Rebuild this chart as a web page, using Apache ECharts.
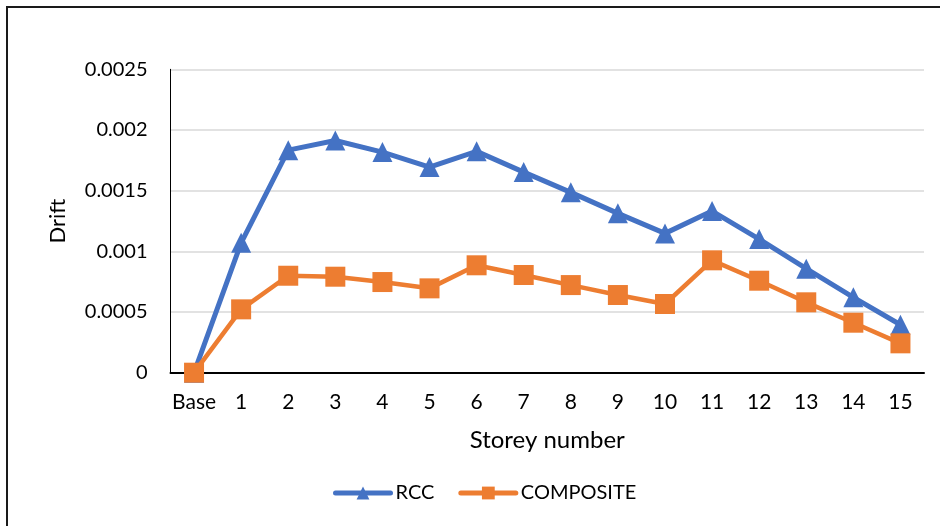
<!DOCTYPE html>
<html>
<head>
<meta charset="utf-8">
<script src="https://cdn.jsdelivr.net/npm/echarts@6/dist/echarts.min.js"></script>
<style>
  html, body { margin: 0; padding: 0; background: #fff; }
  #chart { width: 940px; height: 526px; }
</style>
</head>
<body>
<div id="chart"></div>
<script>
// Storey labels along the x axis
const storeys = ['Base', '1', '2', '3', '4', '5', '6', '7', '8', '9', '10', '11', '12', '13', '14', '15'];

// Inter-storey drift per storey
const rccDrift = [0, 0.00107, 0.001834, 0.001913, 0.001818, 0.001694, 0.001824, 0.001653,
                  0.001486, 0.001313, 0.001148, 0.001332, 0.001101, 0.000857, 0.000621, 0.000395];
const compositeDrift = [0, 0.000522, 0.000799, 0.000791, 0.000747, 0.000695, 0.000885, 0.000805,
                        0.000722, 0.00064, 0.000566, 0.000926, 0.000758, 0.00058, 0.000412, 0.000242];

// Drift axis range
const driftMin = 0;
const driftMax = 0.0025;
const driftStep = 0.0005;

const FONT = 'Lato';
const chart = echarts.init(document.getElementById('chart'), null, { renderer: 'canvas' });

chart.setOption({
  animation: false,
  backgroundColor: '#ffffff',
  textStyle: { fontFamily: FONT },
  graphic: [{
    type: 'rect',
    silent: true,
    shape: { x: 7, y: 7, width: 1000, height: 600 },
    style: { fill: 'none', stroke: '#1a1a1a', lineWidth: 2 }
  }],
  grid: { left: 170.5, right: 16, top: 69.3, bottom: 153.3, containLabel: false },
  legend: {
    left: 333,
    top: 483,
    padding: 0,
    itemWidth: 55,
    itemHeight: 16,
    itemGap: 24,
    lineStyle: { width: 5, cap: 'round' },
    textStyle: { fontFamily: FONT, fontSize: 20, color: '#000' },
    data: ['RCC', 'COMPOSITE']
  },
  xAxis: {
    type: 'category',
    data: storeys,
    boundaryGap: true,
    name: 'Storey number',
    nameLocation: 'middle',
    nameGap: 56,
    nameTextStyle: { fontFamily: FONT, fontSize: 24, color: '#000' },
    axisLine: { show: true, lineStyle: { color: '#000', width: 2 } },
    axisTick: { show: false },
    axisLabel: { margin: 19, fontFamily: FONT, fontSize: 21, color: '#000', interval: 0 },
    splitLine: { show: false }
  },
  yAxis: {
    type: 'value',
    min: driftMin,
    max: driftMax,
    interval: driftStep,
    name: 'Drift',
    nameLocation: 'middle',
    nameGap: 102,
    nameTextStyle: { fontFamily: FONT, fontSize: 22, color: '#000' },
    axisLine: { show: true, lineStyle: { color: '#000', width: 1 } },
    axisTick: { show: false },
    axisLabel: { margin: 23, fontFamily: FONT, fontSize: 20, color: '#000' },
    splitLine: { show: true, lineStyle: { color: '#d9d9d9', width: 1.5 } }
  },
  series: [
    {
      name: 'RCC',
      type: 'line',
      data: rccDrift,
      symbol: 'triangle',
      symbolSize: 20,
      color: '#4472C4',
      lineStyle: { color: '#4472C4', width: 5, cap: 'round' },
      itemStyle: { color: '#4472C4' }
    },
    {
      name: 'COMPOSITE',
      type: 'line',
      data: compositeDrift,
      symbol: 'rect',
      symbolSize: 20,
      color: '#ED7D31',
      lineStyle: { color: '#ED7D31', width: 4.5, cap: 'round' },
      itemStyle: { color: '#ED7D31' }
    }
  ]
});
</script>
</body>
</html>
